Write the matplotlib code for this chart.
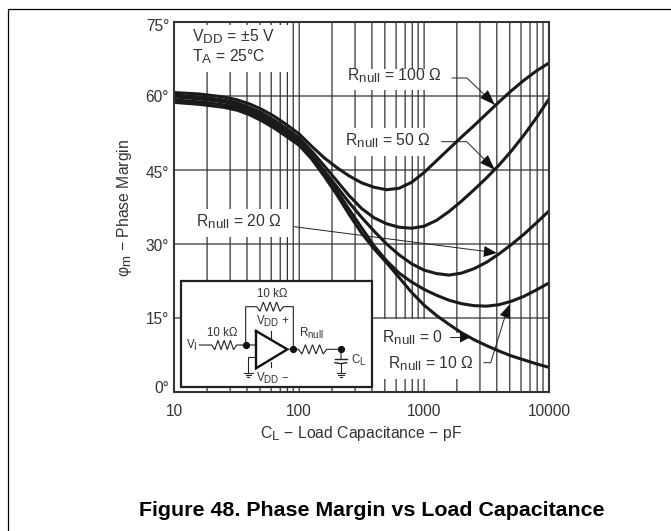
import numpy as np
import matplotlib
matplotlib.use("Agg")
import matplotlib.pyplot as plt
import matplotlib._mathtext as _mt
from matplotlib.lines import Line2D
from matplotlib.patches import Polygon, Rectangle
from matplotlib.ticker import FixedLocator, FixedFormatter, NullFormatter
from matplotlib.transforms import ScaledTranslation

plt.rcParams['font.family'] = ['Liberation Sans', 'DejaVu Sans']
plt.rcParams['mathtext.fontset'] = 'custom'
plt.rcParams['mathtext.rm'] = 'Liberation Sans'
plt.rcParams['mathtext.default'] = 'regular'
_mt.SHRINK_FACTOR = 0.85

load_pf = [10, 16, 25, 32, 40, 50, 63, 79, 100, 126, 158, 200, 251, 316, 398, 501, 631, 794, 1000,
           1259, 1585, 1995, 2512, 3162, 3981, 5012, 6310, 7943, 10000]
r_100 = [60.7, 60.4, 59.8, 59.2, 58.4, 57.3, 55.9, 54.2, 52.3, 49.8, 47.5, 45.5, 43.8, 42.4, 41.5, 41.0, 41.3, 42.5, 44.5,
         46.9, 49.3, 51.7, 54.0, 56.4, 58.8, 61.1, 63.2, 65.1, 66.7]
r_50 = [60.2, 59.8, 59.2, 58.6, 57.7, 56.6, 55.1, 53.4, 51.5, 48.8, 45.9, 42.8, 39.8, 37.2, 35.3, 34.1, 33.4, 33.2, 33.6,
        34.8, 36.6, 38.7, 41.0, 43.4, 46.0, 48.9, 52.1, 55.6, 59.4]
r_20 = [59.8, 59.4, 58.8, 58.1, 57.2, 56.0, 54.5, 52.8, 50.9, 48.0, 44.9, 41.6, 38.4, 35.4, 32.6, 30.0, 27.8, 26.0, 24.7,
        24.0, 23.7, 24.1, 25.0, 26.3, 28.0, 29.9, 32.0, 34.3, 36.7]
r_10 = [59.2, 58.8, 58.2, 57.6, 56.7, 55.5, 54.0, 52.3, 50.5, 47.7, 44.4, 40.8, 37.0, 33.3, 29.6, 26.6, 24.1, 22.3, 20.8,
        19.6, 18.6, 17.9, 17.5, 17.4, 17.7, 18.4, 19.4, 20.7, 22.1]
r_0 = [58.7, 58.3, 57.7, 57.1, 56.2, 55.0, 53.5, 51.8, 50.0, 47.2, 43.8, 40.0, 36.0, 32.2, 29.0, 26.2, 23.2, 20.2, 17.6,
       15.5, 13.7, 12.0, 10.6, 9.4, 8.3, 7.3, 6.5, 5.7, 5.0]
series = [r_100, r_50, r_20, r_10, r_0]

y_ticks = [0, 15, 30, 45, 60, 75]
y_labels = ['0°', '15°', '30°', '45°', '60°', '75°']
x_ticks = [10, 100, 1000, 10000]
x_labels = ['10', '100', '1000', '10000']
grid_steps = [1.83, 2.8, 3.82, 4.85, 5.97, 7.05, 8.04, 8.96]

W, H = 671, 531
fig = plt.figure(figsize=(W / 100, H / 100), dpi=100)


def px(x, y):
    return x / W, 1 - y / H


L, T, R, B = 174.3, 22, 549, 392
ax = fig.add_axes([L / W, 1 - B / H, (R - L) / W, (B - T) / H])
ax.set_xscale('log')
ax.set_xlim(10, 10000)
ax.set_ylim(0, 75)
ax.xaxis.set_major_locator(FixedLocator(x_ticks))
ax.xaxis.set_major_formatter(FixedFormatter(x_labels))
ax.xaxis.set_minor_locator(FixedLocator([d * s for d in x_ticks[:3] for s in grid_steps]))
ax.xaxis.set_minor_formatter(NullFormatter())
ax.set_yticks(y_ticks)
ax.set_yticklabels(y_labels)
ax.tick_params(which='both', length=0, labelsize=11.2, labelcolor='#333333')
ax.tick_params(axis='x', pad=9)
ax.tick_params(axis='y', pad=3.8)
# the end labels of the y axis sit a little inside the axis range
for lab, shift in zip(ax.get_yticklabels(), [5, 0, -1, -2, 0, -3]):
    lab.set_transform(lab.get_transform() + ScaledTranslation(0, shift / 100, fig.dpi_scale_trans))
ax.set_axisbelow(True)
ax.grid(which='major', color='#333333', lw=0.9)
ax.grid(which='minor', axis='x', color='#333333', lw=0.9)
for tick in ax.xaxis.get_minor_ticks() + ax.xaxis.get_major_ticks() + ax.yaxis.get_major_ticks():
    tick.gridline.set_snap(False)
for sp in ax.spines.values():
    sp.set_linewidth(1.5)
    sp.set_color('#333333')
    sp.set_zorder(6)

# breaks in the grid behind the annotations
masks = [(176, 25, 291, 72), (340, 69, 452, 90), (338, 128, 445, 156), (176, 209, 291, 237),
         (373, 319, 445, 379), (445, 333, 476, 379)]
for x0, y0, x1, y1 in masks:
    fx, fy = px(x0, y1)
    ax.add_patch(Rectangle((fx, fy), (x1 - x0) / W, (y1 - y0) / H, transform=fig.transFigure,
                           fc='white', ec='none', zorder=1))

for vals in series:
    ax.plot(load_pf, vals, color='#1a1a1a', lw=2.2, solid_joinstyle='round', zorder=3)


def poly(points, lw=0.7, color='#222222', z=8, **kw):
    xs, ys = zip(*[px(*p) for p in points])
    ax.add_line(Line2D(xs, ys, transform=fig.transFigure, color=color, lw=lw, zorder=z, clip_on=False,
                       solid_joinstyle='miter', **kw))


def head(tip, base, width=11):
    t = np.array(tip, float)
    b = np.array(base, float)
    d = (t - b) / np.hypot(*(t - b))
    n = np.array([-d[1], d[0]]) * width / 2
    ax.add_patch(Polygon([px(*t), px(*(b + n)), px(*(b - n))], closed=True, transform=fig.transFigure,
                         fc='#111111', ec='none', zorder=9, clip_on=False))


# leaders and arrow heads
poly([(452, 78), (467, 78), (495, 105)])
head((495, 105), (484, 94))
poly([(441.7, 141.7), (466.7, 141.7), (495, 170)])
head((495, 170), (484, 159))
poly([(294.3, 226.7), (490, 252)])
head((497, 253), (484, 251.5))
poly([(450, 337), (465, 337)])
head((471, 337), (460, 337))
poly([(484, 362.7), (490.7, 362.7), (507, 310)])
head((510, 304), (505, 317))


def label(x, y, s, size=11.3, **kw):
    fx, fy = px(x, y)
    fig.text(fx, fy, s, fontsize=size, color='#333333', ha=kw.pop('ha', 'left'), va=kw.pop('va', 'baseline'),
             zorder=10, **kw)


label(192, 41.7, r'V$_{DD}$ = ±5 V')
label(192, 61.7, r'T$_{A}$ = 25°C')
label(347, 80.7, r'R$_{null}$ = 100 Ω')
label(345, 145, r'R$_{null}$ = 50 Ω')
label(196, 226.7, r'R$_{null}$ = 20 Ω')
label(381.7, 342.7, r'R$_{null}$ = 0')
label(388, 368, r'R$_{null}$ = 10 Ω')
label(260, 438, r'C$_{L}$ − Load Capacitance − pF')
fx, fy = px(124, 208)
fig.text(fx, fy, r'φ$_{m}$ − Phase Margin', rotation=90, fontsize=11.3, color='#333333', ha='center', va='center')
fx, fy = px(371.5, 516)
fig.text(fx, fy, 'Figure 48. Phase Margin vs Load Capacitance', fontsize=15.4, fontweight='bold', color='black',
         ha='center', va='baseline')

# outer frame
poly([(8, 531), (8, 9), (671, 9)], lw=0.9, color='black', z=1)

# inset schematic, coordinates measured in reference pixels
ax.add_patch(Rectangle(px(180.5, 387), (372 - 180.5) / W, (387 - 281) / H, transform=fig.transFigure,
                       fc='white', ec='#222222', lw=1.6, zorder=5))


def s(x, y):
    return 150 + x / 3, 260 + y / 3


def zig(x0, x1, y, n=4, amp=14):
    pts = [(x0, y)]
    step = (x1 - x0) / (2 * n)
    for i in range(1, 2 * n):
        pts.append((x0 + i * step, y + (amp if i % 2 else -amp)))
    pts.append((x1, y))
    return pts


def wire(points, lw=0.8):
    poly([s(*p) for p in points], lw=lw, z=7)


wire([(287, 255), (287, 140), (320, 140)] + zig(320, 400, 140)[1:] + [(430, 140), (430, 268)])
wire([(148, 255), (185, 255)] + zig(185, 260, 255)[1:] + [(318, 255)])
poly([s(318, 213), s(318, 325), s(412, 268), s(318, 213)], lw=1.7, color='#111111', z=7)
wire([(412, 268), (445, 268)] + zig(445, 530, 268)[1:] + [(573, 268), (573, 297)])
wire([(555, 297), (590, 297)], lw=1.0)
wire([(555, 308), (573, 311), (590, 308)], lw=1.0)
wire([(573, 311), (573, 340)])
for half, dy in [(13, 0), (8, 6), (3, 12)]:
    wire([(573 - half, 340 + dy), (573 + half, 340 + dy)])
    wire([(295 - half, 340 + dy), (295 + half, 340 + dy)])
wire([(318, 290), (295, 290), (295, 340)])
wire([(362, 213), (362, 235)])
wire([(362, 305), (362, 322)])
for cx, cy in [(287, 255), (428, 268), (573, 268)]:
    fx, fy = px(*s(cx, cy))
    ax.add_line(Line2D([fx], [fy], transform=fig.transFigure, marker='o', ms=4.2, color='#111111', zorder=8,
                       clip_on=False))

for x, y, t in [(366, 110, '10 kΩ'), (218, 228, '10 kΩ'), (368, 195, r'V$_{DD}$ +'),
                (125, 268, r'V$_{I}$'), (486, 230, r'R$_{null}$'), (625, 312, r'C$_{L}$'),
                (368, 366, r'V$_{DD}$ −')]:
    label(*s(x, y), t, size=8.3, ha='center')

fig.savefig('out.png', dpi=100)
